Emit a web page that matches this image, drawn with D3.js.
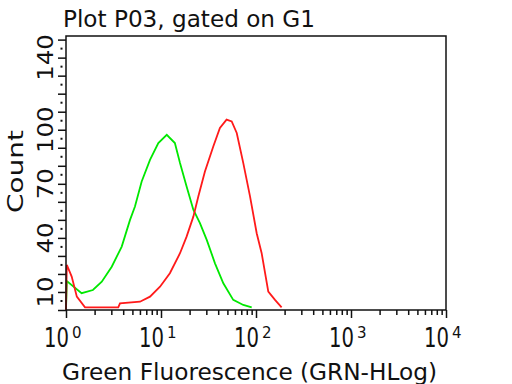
<!DOCTYPE html>
<html>
<head>
<meta charset="utf-8">
<script src="https://cdn.jsdelivr.net/npm/d3@7"></script>
<style>
  body { margin: 0; background: #fff; }
  text { font-family: "DejaVu Sans", sans-serif; fill: #111; }
</style>
</head>
<body>
<div id="chart"></div>
<script>
// histogram data (fluorescence value, count)
const greenX = [1.0, 1.02, 1.46, 1.92, 2.38, 3.03, 3.86, 4.72, 5.32, 6.26, 7.66, 9.37, 11.5, 14.0, 15.85, 18.6, 21.9, 25.7, 30.3, 37.0, 45.3, 57.6, 73.5, 90.1];
const greenY = [0, 16, 9.3, 11.1, 15.7, 24, 35.2, 50, 57.4, 71.3, 83.3, 92.6, 97.2, 92.6, 81.5, 68.5, 55.6, 48.2, 38.9, 25.9, 14.8, 5.6, 2.8, 1.5];

const redX = [1.0, 1.02, 1.148, 1.30, 1.585, 3.55, 3.70, 6.01, 7.66, 9.76, 12.4, 15.85, 18.6, 21.9, 24.7, 29.0, 35.5, 41.7, 49.0, 55.5, 62.7, 73.5, 86.5, 101.7, 114.7, 134.7, 158.5, 186];
const redY = [0, 25, 18.5, 7.4, 1.5, 1.5, 3.7, 4.6, 7.4, 12.9, 20.4, 31.5, 40.7, 51.8, 63, 76.8, 90.7, 101, 105.6, 104.6, 98.2, 81.5, 63, 42.6, 31.5, 10.2, 5.6, 1.5];

const decades = [1, 10, 100, 1000, 10000];
const exponents = ["0", "1", "2", "3", "4"];
const yLabels = [10, 40, 70, 100, 140];

const width = 512, height = 384;
const margin = {top: 36, right: 66, bottom: 74, left: 66};

const svg = d3.select("#chart")
  .append("svg")
  .attr("width", width)
  .attr("height", height);

const xScale = d3.scaleLog()
  .domain([1, 10000])
  .range([margin.left, width - margin.right]);

const yScale = d3.scaleLinear()
  .domain([0, 152])
  .range([height - margin.bottom, margin.top]);

// minor x ticks (2..9 in each decade)
const minor = [];
decades.slice(0, 4).forEach(d => { for (let k = 2; k <= 9; k++) minor.push(d * k); });

svg.append("g")
  .attr("transform", `translate(0,${height - margin.bottom})`)
  .call(d3.axisBottom(xScale).tickValues(minor).tickSize(5).tickFormat(""))
  .call(g => g.select(".domain").remove())
  .selectAll("line").attr("stroke", "#111").attr("stroke-width", 1.5);

svg.append("g")
  .attr("transform", `translate(0,${height - margin.bottom})`)
  .call(d3.axisBottom(xScale).tickValues(decades).tickSize(8).tickFormat(""))
  .call(g => g.select(".domain").remove())
  .selectAll("line").attr("stroke", "#111").attr("stroke-width", 1.5);

// y ticks: long every 10, dots in between
svg.append("g")
  .attr("transform", `translate(${margin.left},0)`)
  .call(d3.axisLeft(yScale).tickValues(d3.range(0, 151, 10)).tickSize(8).tickFormat(""))
  .call(g => g.select(".domain").remove())
  .selectAll("line").attr("stroke", "#111").attr("stroke-width", 1.5);

svg.append("g")
  .selectAll("rect")
  .data(d3.range(5, 151, 10))
  .enter()
  .append("rect")
  .attr("x", margin.left - 5.5)
  .attr("y", d => yScale(d) - 1)
  .attr("width", 2)
  .attr("height", 2)
  .attr("fill", "#111");

// x tick labels 10^n, one text each with a raised exponent
const xl = svg.append("g")
  .selectAll("text")
  .data(decades)
  .enter()
  .append("text")
  .attr("x", d => xScale(d) - 22)
  .attr("y", 347);

xl.append("tspan")
  .attr("font-size", 27)
  .attr("textLength", 25)
  .attr("lengthAdjust", "spacingAndGlyphs")
  .text("10");

xl.append("tspan")
  .attr("font-size", 15)
  .attr("dx", 3)
  .attr("dy", -9)
  .text((d, i) => exponents[i]);

// y tick labels, rotated
svg.append("g")
  .selectAll("text")
  .data(yLabels)
  .enter()
  .append("text")
  .attr("transform", d => `translate(53,${yScale(d)}) rotate(-90)`)
  .attr("text-anchor", "middle")
  .attr("font-size", 22)
  .attr("textLength", d => String(d).length * 15.5)
  .attr("lengthAdjust", "spacingAndGlyphs")
  .text(d => d);

// curves
const line = d3.line()
  .x(d => xScale(d[0]))
  .y(d => yScale(d[1]));

svg.append("path")
  .datum(d3.zip(greenX, greenY))
  .attr("d", line)
  .attr("fill", "none")
  .attr("stroke", "#00e800")
  .attr("stroke-width", 1.8);

svg.append("path")
  .datum(d3.zip(redX, redY))
  .attr("d", line)
  .attr("fill", "none")
  .attr("stroke", "#ff1a1a")
  .attr("stroke-width", 1.8);

// frame
svg.append("rect")
  .attr("x", margin.left)
  .attr("y", margin.top)
  .attr("width", width - margin.left - margin.right)
  .attr("height", height - margin.top - margin.bottom)
  .attr("fill", "none")
  .attr("stroke", "#111")
  .attr("stroke-width", 1.5);

// titles
svg.append("text")
  .attr("x", 63)
  .attr("y", 27)
  .attr("font-size", 23)
  .attr("textLength", 252)
  .attr("lengthAdjust", "spacingAndGlyphs")
  .text("Plot P03, gated on G1");

svg.append("text")
  .attr("x", 62)
  .attr("y", 380)
  .attr("font-size", 23)
  .attr("textLength", 375)
  .attr("lengthAdjust", "spacingAndGlyphs")
  .text("Green Fluorescence (GRN-HLog)");

svg.append("text")
  .attr("transform", "translate(23,171.5) rotate(-90)")
  .attr("text-anchor", "middle")
  .attr("font-size", 22)
  .attr("textLength", 83)
  .attr("lengthAdjust", "spacingAndGlyphs")
  .text("Count");
</script>
</body>
</html>
